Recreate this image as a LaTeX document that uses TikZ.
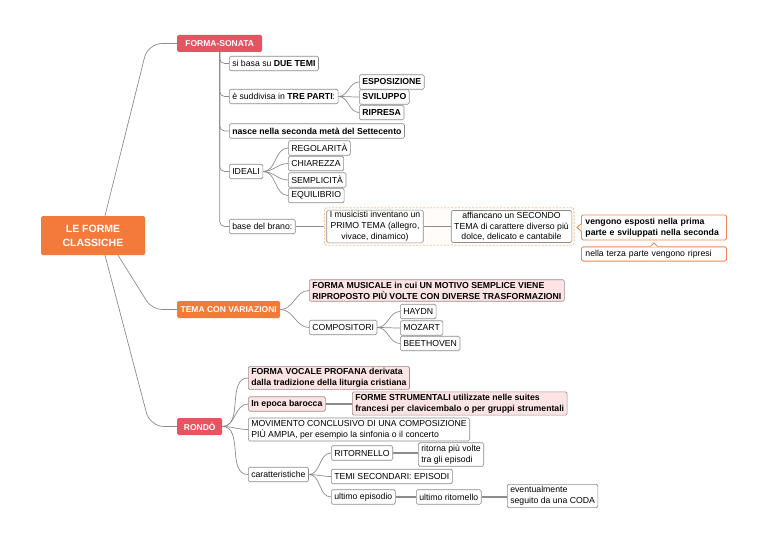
\documentclass[tikz,border=0pt]{standalone}
\usepackage{fontspec}
\setmainfont{Liberation Sans}
\usetikzlibrary{positioning, calc, fit, backgrounds}

\definecolor{mainorange}{HTML}{F47A3C}
\definecolor{mainred}{HTML}{E45561}
\definecolor{linegray}{HTML}{8C8C8C}
\definecolor{boxgray}{HTML}{8A8A8A}
\definecolor{pinkbg}{HTML}{FCE4E4}
\definecolor{pinkline}{HTML}{A08C8C}
\definecolor{dashorange}{HTML}{F8BF8C}
\definecolor{calloutorange}{HTML}{EF8650}

\newcommand{\mapsize}{\fontsize{8.7}{10.8}\selectfont}
\newcommand{\mainsize}{\fontsize{8.5}{10}\selectfont}
\newcommand{\rootsize}{\fontsize{10.5}{14}\selectfont}

\tikzset{
  leaf/.style={draw=boxgray, fill=white, line width=0.6pt, rounded corners=1.5pt, anchor=west,
    inner xsep=3pt, inner ysep=2.2pt, minimum height=14.5pt, font=\mapsize, align=left},
  pinkleaf/.style={leaf, fill=pinkbg, draw=pinkline, font=\mapsize\bfseries},
  mainbox/.style={fill=#1, text=white, rounded corners=1.5pt, anchor=west, minimum height=17pt,
    inner xsep=0pt, font=\mainsize\bfseries},
  link/.style={draw=linegray, line width=0.7pt},
  thicklink/.style={draw=linegray, line width=1.3pt},
  calloutbox/.style={draw=calloutorange, line width=0.9pt, fill=white, rounded corners=1.5pt, anchor=west,
    text width=137pt, inner xsep=4pt, inner ysep=3pt, font=\mapsize, align=left},
}

\begin{document}
\begin{tikzpicture}[x=1pt, y=-1pt]
        \useasboundingbox (0,0) rectangle (768,543);

        % Root and main branches
        \node[mainbox=mainorange, anchor=center, minimum width=104pt, minimum height=39pt,
          font=\rootsize\bfseries, align=center] (root) at (93,235.5) {LE FORME\\CLASSICHE};
        \node[mainbox=mainred, minimum width=85pt] (sonata) at (177,43.5) {FORMA-SONATA};
        \node[mainbox=mainorange, minimum width=103pt] (variaz) at (177,309.5) {TEMA CON VARIAZIONI};
        \node[mainbox=mainred, minimum width=45pt] (rondo) at (177,426.5) {RONDÒ};

        \draw[link, rounded corners=14pt] ($(root.north)+(12,0)$) -- (148,43.5) -- (sonata.west);
        \draw[link, rounded corners=10pt] ($(root.south)+(25,0)$) -- (152,309.5) -- (variaz.west);
        \draw[link, rounded corners=14pt] ($(root.south)+(12,0)$) -- (150,426.5) -- (rondo.west);

        % Forma-sonata
        \node[leaf] (duetemi) at (229,63.5) {si basa su \textbf{DUE TEMI}};
        \node[leaf] (treparti) at (229,96.5) {è suddivisa in \textbf{TRE PARTI}:};
        \node[leaf, font=\mapsize\bfseries] (esposiz) at (359,82) {ESPOSIZIONE};
        \node[leaf, font=\mapsize\bfseries] (svilup) at (359,97) {SVILUPPO};
        \node[leaf, font=\mapsize\bfseries] (ripresa) at (359,112.5) {RIPRESA};
        \node[leaf, font=\mapsize\bfseries] (settecento) at (229,131) {nasce nella seconda metà del Settecento};
        \node[leaf] (ideali) at (229,171.5) {IDEALI};
        \node[leaf] (regol) at (288,148) {REGOLARITÀ};
        \node[leaf] (chiar) at (288,163.5) {CHIAREZZA};
        \node[leaf] (sempl) at (288,180) {SEMPLICITÀ};
        \node[leaf] (equil) at (288,195.5) {EQUILIBRIO};
        \node[leaf] (brano) at (229,226.5) {base del brano:};

        \foreach \c in {duetemi,treparti,settecento,ideali,brano}
          \draw[link, rounded corners=5pt] (sonata.south) |- (\c.west);
        \foreach \c in {esposiz,svilup,ripresa}
          \draw[link] (treparti.east) to[out=0, in=180] (\c.west);
        \foreach \c in {regol,chiar,sempl,equil}
          \draw[link] (ideali.east) to[out=0, in=180] (\c.west);

        % Temi del brano
        \node[leaf, anchor=center, align=center, inner ysep=1.5pt] (primo) at (375,226.5)
          {I musicisti inventano un\\PRIMO TEMA (allegro,\\vivace, dinamico)};
        \node[leaf, anchor=center, align=center, inner ysep=1.5pt] (secondo) at (511.5,226.5)
          {affiancano un SECONDO\\TEMA di carattere diverso più\\dolce, delicato e cantabile};
        \begin{scope}[on background layer]
          \node[draw=dashorange, dash pattern=on 2pt off 1.5pt, line width=0.8pt, fill=orange!2,
            rounded corners=2pt, inner sep=2pt, fit=(primo)(secondo)] (coppia) {};
        \end{scope}
        \draw[thicklink] (brano) -- (coppia);
        \draw[thicklink] (primo) -- (secondo);

        % Notes
        \node[calloutbox, font=\mapsize\bfseries] (esposti) at (581,227.5)
          {vengono esposti nella prima\\parte e sviluppati nella seconda};
        \node[calloutbox] (ripresi) at (581,254) {nella terza parte vengono ripresi};
        \fill[white] ($(esposti.west)+(0.6,-3.5)$) -- ($(esposti.west)+(-4,0)$) -- ($(esposti.west)+(0.6,3.5)$) -- cycle;
        \draw[calloutorange, line width=0.9pt] ($(esposti.west)+(0,-3.5)$) -- ($(esposti.west)+(-4,0)$) -- ($(esposti.west)+(0,3.5)$);
        \fill[white] ($(ripresi.north)+(-3.5,0.6)$) -- ($(ripresi.north)+(0,-3.5)$) -- ($(ripresi.north)+(3.5,0.6)$) -- cycle;
        \draw[calloutorange, line width=0.9pt] ($(ripresi.north)+(-3.5,0)$) -- ($(ripresi.north)+(0,-3.5)$) -- ($(ripresi.north)+(3.5,0)$);

        % Tema con variazioni
        \node[pinkleaf] (motivo) at (309,290.5)
          {FORMA MUSICALE in cui UN MOTIVO SEMPLICE VIENE\\RIPROPOSTO PIÙ VOLTE CON DIVERSE TRASFORMAZIONI};
        \node[leaf] (compos) at (309,327.5) {COMPOSITORI};
        \node[leaf] (haydn) at (400,311.5) {HAYDN};
        \node[leaf] (mozart) at (400,328) {MOZART};
        \node[leaf] (beethoven) at (400,343.5) {BEETHOVEN};

        \foreach \c in {motivo,compos}
          \draw[link] (variaz.east) to[out=0, in=180] (\c.west);
        \foreach \c in {haydn,mozart,beethoven}
          \draw[link] (compos.east) to[out=0, in=180] (\c.west);

        % Rondo
        \node[pinkleaf] (vocale) at (248,378)
          {FORMA VOCALE PROFANA derivata\\dalla tradizione della liturgia cristiana};
        \node[pinkleaf] (barocca) at (248,404) {In epoca barocca};
        \node[pinkleaf] (strument) at (352,403.5)
          {FORME STRUMENTALI utilizzate nelle suites\\francesi per clavicembalo o per gruppi strumentali};
        \node[leaf] (movimento) at (248,429.5)
          {MOVIMENTO CONCLUSIVO DI UNA COMPOSIZIONE\\PIÙ AMPIA, per esempio la sinfonia o il concerto};
        \node[leaf] (caratt) at (248,474.5) {caratteristiche};
        \node[leaf] (ritorn) at (331,453) {RITORNELLO};
        \node[leaf] (ritorna) at (418,454.5) {ritorna più volte\\tra gli episodi};
        \node[leaf] (episodi) at (331,476.5) {TEMI SECONDARI: EPISODI};
        \node[leaf] (ultepis) at (331,497) {ultimo episodio};
        \node[leaf] (ultrit) at (416,497) {ultimo ritornello};
        \node[leaf] (coda) at (507,496) {eventualmente\\seguito da una CODA};

        \foreach \c in {vocale,barocca,movimento,caratt}
          \draw[link] (rondo.east) to[out=0, in=180] (\c.west);
        \foreach \c in {ritorn,episodi,ultepis}
          \draw[link] (caratt.east) to[out=0, in=180] (\c.west);
        \draw[thicklink] (barocca.east) -- (barocca.east -| strument.west);
        \draw[thicklink] (ritorn.east) -- (ritorn.east -| ritorna.west);
        \draw[thicklink] (ultepis.east) -- (ultrit.west);
        \draw[thicklink] (ultrit.east) -- (ultrit.east -| coda.west);
    \end{tikzpicture}
\end{document}
